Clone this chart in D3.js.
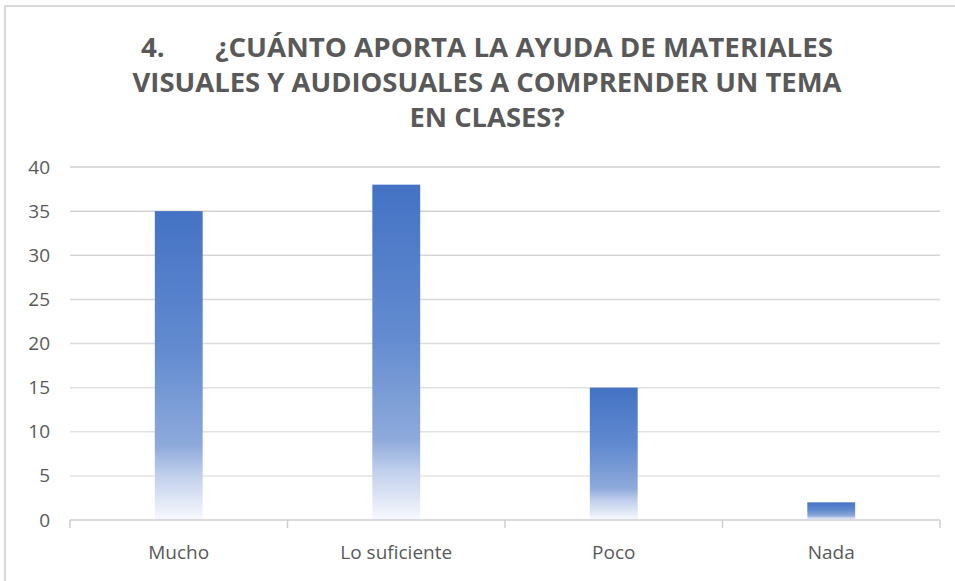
<!DOCTYPE html>
<html>
<head>
<meta charset="utf-8">
<script src="https://cdn.jsdelivr.net/npm/d3@7"></script>
<style>
  body { margin: 0; background: #fff; }
  svg { display: block; }
</style>
</head>
<body>
<script>
"use strict";
(function(){
    // chart data
    const categories = ["Mucho", "Lo suficiente", "Poco", "Nada"]
    const counts = [35, 38, 15, 2]
    const yTicks = [0, 5, 10, 15, 20, 25, 30, 35, 40]
    const titleLines = ["4.       ¿CUÁNTO APORTA LA AYUDA DE MATERIALES",
        "VISUALES Y AUDIOSUALES A COMPRENDER UN TEMA",
        "EN CLASES?"]

    const measurements = {
        width: 955,
        height: 581,
        left: 70,
        right: 940,
        top: 167,
        bottom: 520
    }

    const svg = d3.select("body").append("svg")
        .attr("width", measurements.width)
        .attr("height", measurements.height)

    // bar gradient, blue at top fading to white at the base
    const defs = svg.append("defs")
    const grad = defs.append("linearGradient")
        .attr("id", "barFill")
        .attr("x1", 0).attr("y1", 0).attr("x2", 0).attr("y2", 1)
    const stops = [[0, "#4472c4"], [0.45, "#628bd0"], [0.76, "#8eaadb"], [0.86, "#c3d1ed"], [1, "#f7f9fd"]]
    stops.forEach(s => grad.append("stop").attr("offset", s[0]).attr("stop-color", s[1]))

    // frame (only top and left edges are visible in the picture)
    svg.append("path")
        .attr("d", "M5,581 L5,6 L955,6")
        .attr("fill", "none")
        .attr("stroke", "#d9d9d9")
        .attr("stroke-width", 2)

    // title
    const title = svg.append("text")
        .attr("text-anchor", "middle")
        .attr("font-family", "'Open Sans', sans-serif")
        .attr("font-weight", "bold")
        .attr("font-size", 26)
        .attr("fill", "#595959")
        .style("white-space", "pre")
    titleLines.forEach((line, i) => {
        title.append("tspan")
            .attr("x", 487)
            .attr("y", 57 + i * 35)
            .text(line)
    })

    const scaleX = d3.scaleBand()
        .domain(categories)
        .range([measurements.left, measurements.right])

    const scaleY = d3.scaleLinear()
        .domain([0, 40])
        .range([measurements.bottom, measurements.top])

    // gridlines
    const gridColor = d3.scaleLinear().domain([0, 40]).range(["#e8e8e8", "#cfcfcf"])
    svg.append("g")
        .selectAll("line")
        .data(yTicks.filter(t => t > 0))
        .enter()
        .append("line")
            .attr("x1", measurements.left)
            .attr("x2", measurements.right)
            .attr("y1", d => scaleY(d))
            .attr("y2", d => scaleY(d))
            .attr("stroke", d => gridColor(d))
            .attr("stroke-width", 1.5)

    // y axis labels
    const yAxis = d3.axisLeft(scaleY)
        .tickValues(yTicks)
        .tickSize(0)
        .tickPadding(20)
    const yG = svg.append("g")
        .attr("transform", `translate(${measurements.left},0)`)
        .call(yAxis)
    yG.select(".domain").remove()
    yG.selectAll("text")
        .attr("font-family", "'Open Sans', sans-serif")
        .attr("font-size", 19)
        .attr("fill", "#595959")

    // bars
    const barWidth = scaleX.bandwidth() * 0.22
    svg.append("g")
        .selectAll("rect")
        .data(counts)
        .enter()
        .append("rect")
            .attr("x", (d, i) => scaleX(categories[i]) + (scaleX.bandwidth() - barWidth) / 2)
            .attr("y", d => scaleY(d))
            .attr("width", barWidth)
            .attr("height", d => scaleY(0) - scaleY(d))
            .attr("fill", "url(#barFill)")

    // x axis with ticks on category boundaries
    const xG = svg.append("g")
        .attr("transform", `translate(0,${measurements.bottom})`)
    xG.append("line")
        .attr("x1", measurements.left)
        .attr("x2", measurements.right)
        .attr("stroke", "#cfcfcf")
        .attr("stroke-width", 1.5)
    const bounds = categories.map(c => scaleX(c)).concat([measurements.right])
    xG.selectAll(".tick")
        .data(bounds)
        .enter()
        .append("line")
            .attr("x1", d => d)
            .attr("x2", d => d)
            .attr("y1", 0)
            .attr("y2", 8)
            .attr("stroke", "#cfcfcf")
            .attr("stroke-width", 1.5)
    xG.selectAll("text")
        .data(categories)
        .enter()
        .append("text")
            .attr("x", d => scaleX(d) + scaleX.bandwidth() / 2)
            .attr("y", 39)
            .attr("text-anchor", "middle")
            .attr("font-family", "'Open Sans', sans-serif")
            .attr("font-size", 19)
            .attr("fill", "#595959")
            .text(d => d)

    // fit title lines to the reference widths
    const widths = [692, 709, 155]
    title.selectAll("tspan").each(function(d, i) {
        d3.select(this).attr("textLength", widths[i]).attr("lengthAdjust", "spacingAndGlyphs")
    })
})()
</script>
</body>
</html>
